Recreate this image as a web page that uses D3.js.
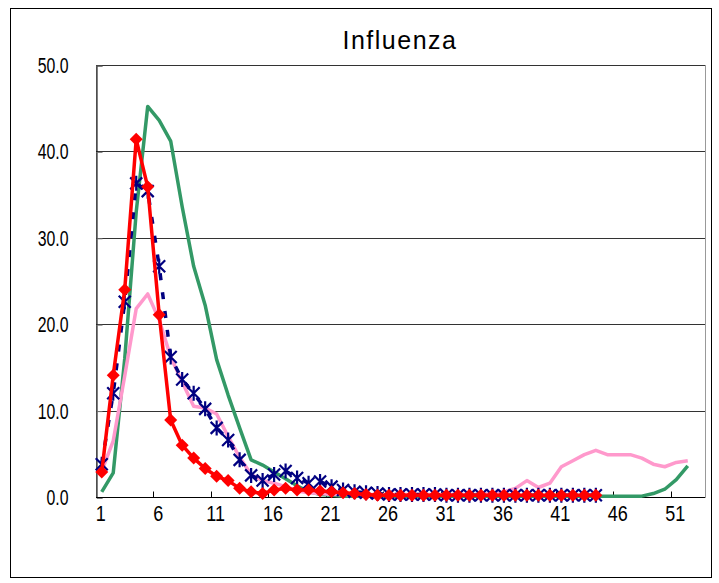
<!DOCTYPE html>
<html>
<head>
<meta charset="utf-8">
<script src="https://cdn.jsdelivr.net/npm/d3@7"></script>
<style>
  body { margin: 0; background: #fff; }
  text { font-family: "Liberation Sans", Arial, sans-serif; }
</style>
</head>
<body>
<svg id="chart"></svg>
<script>
const weeks = d3.range(1, 54);
const weekLabels = [1, 6, 11, 16, 21, 26, 31, 36, 41, 46, 51];
const yTicks = [0, 10, 20, 30, 40, 50];

// season series (weekly values)
const greenSeason = [0.6, 2.8, 16.0, 33.0, 45.2, 43.6, 41.2, 33.6, 26.7, 22.2, 15.9, 11.8, 8.0, 4.3, 3.7, 2.9, 2.1, 1.3,
    0.6, 0.3, 0.2, 0.1, 0.1, 0.1, 0.1, 0.1, 0.1, 0.1, 0.1, 0.1, 0.1, 0.1, 0.1, 0.1, 0.1, 0.1, 0.1, 0.1, 0.1, 0.1, 0.1,
    0.1, 0.1, 0.1, 0.1, 0.1, 0.1, 0.1, 0.4, 0.9, 2.0, 3.6];
const pinkSeason = [3.0, 6.5, 14.0, 21.8, 23.5, 20.5, 16.2, 13.3, 10.5, 10.3, 9.6, 7.0, 4.6, 2.6, 1.9, 1.6, 1.2, 0.7,
    0.5, 0.4, 0.3, 0.3, 0.3, 0.3, 0.3, 0.3, 0.3, 0.3, 0.3, 0.3, 0.3, 0.3, 0.3, 0.3, 0.4, 0.6, 1.0, 1.9, 1.1, 1.6, 3.5,
    4.2, 4.9, 5.4, 4.9, 4.9, 4.9, 4.5, 3.8, 3.5, 4.0, 4.2];
const blueSeason = [3.8, 12.0, 22.6, 36.3, 35.4, 26.7, 16.2, 13.6, 12.0, 10.2, 8.0, 6.6, 4.3, 2.5, 1.9, 2.6, 3.0, 2.2,
    1.6, 1.8, 1.2, 0.8, 0.6, 0.5, 0.4, 0.3, 0.3, 0.3, 0.3, 0.3, 0.2, 0.2, 0.2, 0.2, 0.2, 0.2, 0.2, 0.2, 0.2, 0.2, 0.2,
    0.2, 0.2, 0.2];
const redSeason = [2.9, 14.1, 24.0, 41.4, 35.9, 21.1, 8.9, 6.0, 4.5, 3.3, 2.4, 1.9, 1.0, 0.6, 0.4, 0.8, 1.0, 0.8,
    0.8, 0.7, 0.6, 0.5, 0.4, 0.3, 0.2, 0.2, 0.2, 0.2, 0.2, 0.2, 0.2, 0.2, 0.2, 0.2, 0.2, 0.2, 0.2, 0.2, 0.2, 0.2, 0.2,
    0.2, 0.2, 0.2];

const dimensions = {
    width: 719,
    height: 583,
    plot: { left: 96, right: 705, top: 65, bottom: 497 }
};

const svg = d3.select("#chart")
    .attr("width", dimensions.width)
    .attr("height", dimensions.height);

// outer chart frame
svg.append("rect")
    .attr("x", 10.5).attr("y", 8.5)
    .attr("width", 701).attr("height", 569)
    .attr("fill", "#fff").attr("stroke", "#000").attr("stroke-width", 1);

const xScale = d3.scaleBand()
    .domain(weeks)
    .range([dimensions.plot.left, dimensions.plot.right])
    .padding(0);

const yScale = d3.scaleLinear()
    .domain([0, 50])
    .range([dimensions.plot.bottom, dimensions.plot.top]);

const xMid = w => xScale(w) + xScale.bandwidth() / 2;

// plot area border
svg.append("rect")
    .attr("x", dimensions.plot.left + 0.5).attr("y", dimensions.plot.top + 0.5)
    .attr("width", dimensions.plot.right - dimensions.plot.left)
    .attr("height", dimensions.plot.bottom - dimensions.plot.top)
    .attr("fill", "none").attr("stroke", "#999");

// gridlines
svg.append("g")
    .selectAll("line")
    .data(yTicks.filter(d => d > 0))
    .enter()
    .append("line")
    .attr("x1", dimensions.plot.left)
    .attr("x2", dimensions.plot.right)
    .attr("y1", d => Math.round(yScale(d)) + 0.5)
    .attr("y2", d => Math.round(yScale(d)) + 0.5)
    .attr("stroke", "#333");

// y axis (labels condensed like the original)
const yAxis = svg.append("g")
    .attr("transform", `translate(${dimensions.plot.left + 0.5},0.5)`)
    .call(d3.axisLeft(yScale).tickValues(yTicks).tickSize(-6).tickPadding(28).tickFormat(d3.format(".1f")));
yAxis.select(".domain").attr("stroke", "#000");
yAxis.selectAll(".tick line").attr("stroke", "#777");
yAxis.selectAll(".tick text")
    .attr("font-size", 22)
    .attr("fill", "#000")
    .attr("font-family", "'Liberation Sans', sans-serif")
    .attr("x", -28 / 0.72)
    .attr("transform", "scale(0.72,1)");

// x axis: ticks every 5 weeks at category boundaries
const xAxisG = svg.append("g")
    .attr("transform", `translate(0,${dimensions.plot.bottom + 0.5})`);
xAxisG.append("line")
    .attr("x1", dimensions.plot.left).attr("x2", dimensions.plot.right)
    .attr("stroke", "#000");
xAxisG.selectAll(".xtick")
    .data(weekLabels.slice(1))
    .enter()
    .append("line")
    .attr("class", "xtick")
    .attr("x1", d => Math.round(xScale(d)) + 0.5)
    .attr("x2", d => Math.round(xScale(d)) + 0.5)
    .attr("y1", 0).attr("y2", -6)
    .attr("stroke", "#000");
xAxisG.selectAll(".xlabel")
    .data(weekLabels)
    .enter()
    .append("text")
    .attr("class", "xlabel")
    .attr("transform", d => `translate(${xMid(d) - 1},23) scale(0.82,1)`)
    .attr("text-anchor", "middle")
    .attr("font-size", 22)
    .text(d => d);

// title
svg.append("text")
    .attr("x", 400)
    .attr("y", 49)
    .attr("text-anchor", "middle")
    .attr("font-size", 25)
    .attr("letter-spacing", 1.5)
    .text("Influenza");

const line = d3.line()
    .x((d, i) => xMid(weeks[i]))
    .y(d => yScale(d));

const series = [
    { key: "green", values: greenSeason, color: "#339966", dash: null },
    { key: "pink", values: pinkSeason, color: "#ff99cc", dash: null },
    { key: "blue", values: blueSeason, color: "#000080", dash: "7,12" },
    { key: "red", values: redSeason, color: "#ff0000", dash: null }
];

series.forEach(s => {
    svg.append("path")
        .datum(s.values)
        .attr("fill", "none")
        .attr("stroke", s.color)
        .attr("stroke-width", 3.5)
        .attr("stroke-linejoin", "round")
        .attr("stroke-dasharray", s.dash)
        .attr("d", line);

    if (s.key === "blue") {
        svg.append("g")
            .selectAll("path")
            .data(s.values)
            .enter()
            .append("path")
            .attr("transform", (d, i) => `translate(${xMid(weeks[i])},${yScale(d)})`)
            .attr("d", "M-6,-6L6,6M-6,6L6,-6M0,-7.5L0,7.5")
            .attr("stroke", s.color)
            .attr("stroke-width", 2.2)
            .attr("fill", "none");
    }
    if (s.key === "red") {
        svg.append("g")
            .selectAll("path")
            .data(s.values)
            .enter()
            .append("path")
            .attr("transform", (d, i) => `translate(${xMid(weeks[i])},${yScale(d)})`)
            .attr("d", "M0,-6.5L6.5,0L0,6.5L-6.5,0Z")
            .attr("fill", s.color);
    }
});
</script>
</body>
</html>
